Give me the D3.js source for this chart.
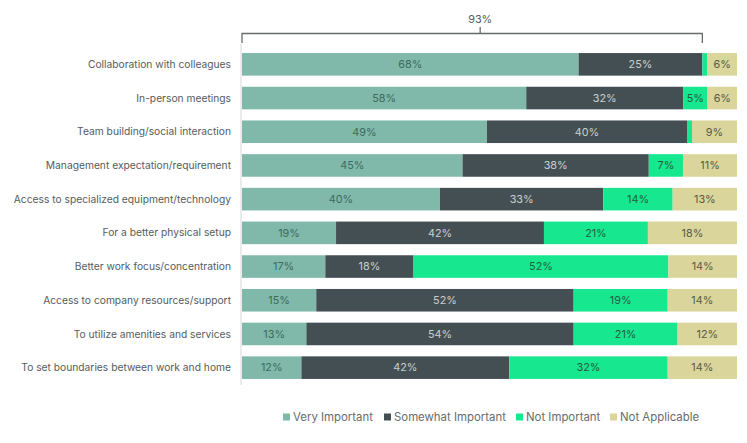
<!doctype html>
<html>
<head>
<meta charset="utf-8">
<script src="https://cdn.jsdelivr.net/npm/d3@7"></script>
<style>
  body { margin: 0; background: #fff; }
  text { font-family: Inter, "Noto Sans", sans-serif; }
</style>
</head>
<body>
<div id="chart"></div>
<script>
// categories, top to bottom
var categories = [
  "Collaboration with colleagues",
  "In-person meetings",
  "Team building/social interaction",
  "Management expectation/requirement",
  "Access to specialized equipment/technology",
  "For a better physical setup",
  "Better work focus/concentration",
  "Access to company resources/support",
  "To utilize amenities and services",
  "To set boundaries between work and home"
]

var seriesNames = ["Very Important", "Somewhat Important", "Not Important", "Not Applicable"]

var veryImportant     = [68, 58, 49, 45, 40, 19, 17, 15, 13, 12]
var somewhatImportant = [25, 32, 40, 38, 33, 42, 18, 52, 54, 42]
var notImportant      = [1, 5, 1, 7, 14, 21, 52, 19, 21, 32]
var notApplicable     = [6, 6, 9, 11, 13, 18, 14, 14, 12, 14]

var bracketLabel = "93%"

var colors = ["#80b9aa", "#444f53", "#17e88f", "#d9d59b"]
var labelColors = ["#3d6a5e", "#c9cfcf", "#1f5d41", "#5b5a45"]

var width = 747, height = 443
var margin = {top: 48, right: 10, bottom: 70, left: 242}

var svg = d3.select("#chart").append("svg")
    .attr("width", width)
    .attr("height", height)

var x = d3.scaleLinear().domain([0, 100]).range([margin.left, 737])
var y = d3.scaleBand().domain(categories).range([margin.top, 384]).paddingInner(0.33).paddingOuter(0.15)

var series = [veryImportant, somewhatImportant, notImportant, notApplicable]

// build stacked rows, normalised to 100 so every bar ends flush
var rows = categories.map(function (c, i) {
  var vals = series.map(function (s) { return s[i] })
  var total = d3.sum(vals)
  var acc = 0
  return vals.map(function (v, k) {
    var x0 = acc / total * 100
    acc += v
    return {cat: c, k: k, v: v, x0: x0, x1: acc / total * 100}
  })
})

// axis line
svg.append("line")
    .attr("x1", margin.left - 1).attr("x2", margin.left - 1)
    .attr("y1", 44).attr("y2", 385)
    .attr("stroke", "#e4e4e4").attr("stroke-width", 1.5)

var rowG = svg.selectAll(".row").data(rows).enter().append("g")
    .attr("class", "row")

rowG.selectAll("rect").data(function (d) { return d }).enter().append("rect")
    .attr("x", function (d) { return x(d.x0) })
    .attr("width", function (d) { return x(d.x1) - x(d.x0) })
    .attr("y", function (d) { return y(d.cat) })
    .attr("height", y.bandwidth())
    .attr("fill", function (d) { return colors[d.k] })

rowG.selectAll("text.val").data(function (d) { return d.filter(function (e) { return e.v >= 5 }) }).enter().append("text")
    .attr("class", "val")
    .attr("x", function (d) { return (x(d.x0) + x(d.x1)) / 2 })
    .attr("y", function (d) { return y(d.cat) + y.bandwidth() / 2 })
    .attr("dy", "0.35em")
    .attr("text-anchor", "middle")
    .attr("font-size", 10.8)
    .attr("fill", function (d) { return labelColors[d.k] })
    .text(function (d) { return d.v + "%" })

// category labels
svg.selectAll("text.cat").data(categories).enter().append("text")
    .attr("class", "cat")
    .attr("x", 231)
    .attr("y", function (d) { return y(d) + y.bandwidth() / 2 })
    .attr("dy", "0.35em")
    .attr("text-anchor", "end")
    .attr("font-size", 10.25)
    .attr("fill", "#555b5e")
    .text(function (d) { return d })

// bracket over first row's important share (tick sits a little right of centre, as in the original)
var bEnd = x(rows[0][1].x1)
var bMid = (x(0) + bEnd) / 2 + 8
var bracket = svg.append("g").attr("stroke", "#666c6e").attr("stroke-width", 1.3).attr("fill", "none")
bracket.append("path")
    .attr("d", "M" + x(0) + ",43V33.5H" + bEnd + "V43")
bracket.append("line")
    .attr("x1", bMid).attr("x2", bMid).attr("y1", 33.5).attr("y2", 27)
svg.append("text")
    .attr("x", bMid).attr("y", 19).attr("dy", "0.35em")
    .attr("text-anchor", "middle")
    .attr("font-size", 10.8)
    .attr("fill", "#555b5e")
    .text(bracketLabel)

// legend
var legendX = [283, 384, 516, 610]
var leg = svg.selectAll(".leg").data(seriesNames).enter().append("g")
    .attr("class", "leg")
    .attr("transform", function (d, i) { return "translate(" + legendX[i] + ",417)" })
leg.append("rect")
    .attr("x", 0).attr("y", -3.5).attr("width", 7).attr("height", 7)
    .attr("fill", function (d, i) { return colors[i] })
leg.append("text")
    .attr("x", 10).attr("dy", "0.35em")
    .attr("font-size", 11.4)
    .attr("fill", "#666c6e")
    .text(function (d) { return d })
</script>
</body>
</html>
